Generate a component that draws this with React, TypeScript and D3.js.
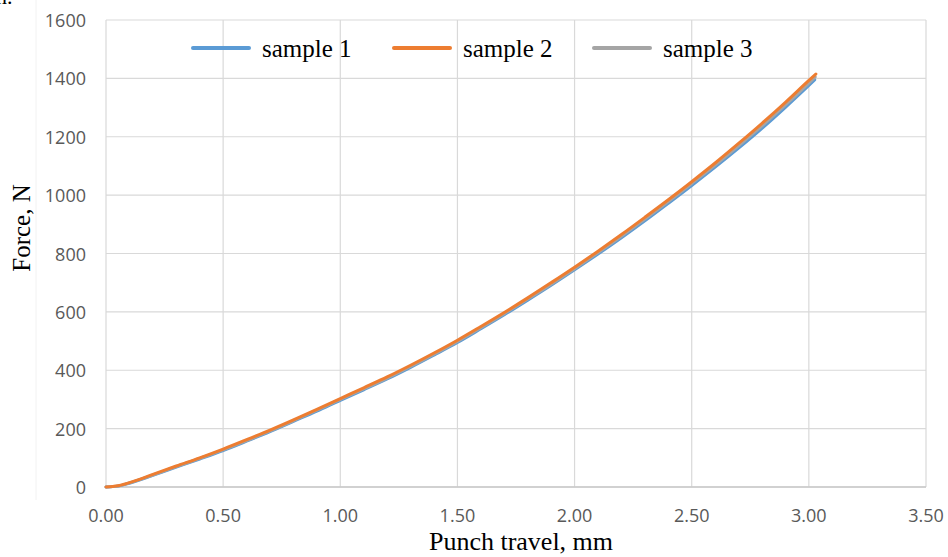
import React from "react";
import * as d3 from "d3";

const xTicks = [0, 0.5, 1.0, 1.5, 2.0, 2.5, 3.0, 3.5];
const yTicks = [0, 200, 400, 600, 800, 1000, 1200, 1400, 1600];

const travel = [0, 0.05, 0.1, 0.2, 0.3, 0.4, 0.5, 0.6, 0.7, 0.8, 0.9, 1.0, 1.1, 1.2, 1.3, 1.4, 1.5, 1.6, 1.7, 1.8, 1.9, 2.0, 2.1, 2.2, 2.3, 2.4, 2.5, 2.6, 2.7, 2.8, 2.9, 3.0];
const sample1 = [0, 3, 13, 40, 68, 96, 125, 157, 190, 225, 260, 297, 333, 370, 410, 452, 495, 542, 590, 640, 691, 744, 798, 854, 912, 972, 1033, 1096, 1161, 1229, 1301, 1376];
const sample2 = [0, 4, 15, 43, 72, 100, 130, 162, 195, 230, 266, 303, 340, 377, 417, 459, 503, 550, 598, 648, 700, 753, 808, 865, 924, 984, 1046, 1110, 1177, 1246, 1318, 1393];
const sample3 = [0, 3, 14, 41, 70, 98, 127, 159, 192, 227, 263, 300, 336, 373, 413, 455, 499, 546, 594, 644, 695, 748, 803, 859, 918, 978, 1040, 1103, 1169, 1237, 1309, 1384];
const endTravel = [3.025, 3.03, 3.027];
const endForce = [1395, 1415, 1405];

const seriesNames = ["sample 1", "sample 2", "sample 3"];
const seriesColors = ["#5B9BD5", "#ED7D31", "#A5A5A5"];

export default function App() {
  const x = d3.scaleLinear().domain([0, 3.5]).range([106, 926]);
  const y = d3.scaleLinear().domain([0, 1600]).range([487, 20]);
  const all = [sample1, sample2, sample3];
  const line = d3
    .line<[number, number]>()
    .x((d) => x(d[0]))
    .y((d) => y(d[1]))
    .curve(d3.curveMonotoneX);
  const paths = all.map((s, i) => {
    const pts: [number, number][] = travel.map((t, j) => [t, s[j]]);
    pts.push([endTravel[i], endForce[i]]);
    return line(pts) as string;
  });
  const drawOrder = [0, 2, 1];
  const legendX = [193, 394, 594];
  const tickFont = "'Open Sans', 'Liberation Sans', sans-serif";
  const serif = "'Liberation Serif', 'Times New Roman', serif";
  return (
    <svg
      width={948}
      height={557}
      style={{ position: "absolute", left: 0, top: 0, background: "#fff" }}
    >
      <rect x={0} y={0} width={948} height={557} fill="#fff" />
      <line x1={36} y1={0} x2={36} y2={500} stroke="#f2f2f2" strokeWidth={1} />
      <text x={-4} y={4} fontFamily={serif} fontSize={22} fill="#000">n.</text>
      {yTicks.map((t) => (
        <line key={"gy" + t} x1={106} x2={926} y1={y(t)} y2={y(t)} stroke="#d9d9d9" strokeWidth={1.2} />
      ))}
      {xTicks.map((t) => (
        <line key={"gx" + t} x1={x(t)} x2={x(t)} y1={20} y2={487} stroke="#d9d9d9" strokeWidth={1.2} />
      ))}
      <line x1={106} x2={926} y1={487} y2={487} stroke="#c8c8c8" strokeWidth={1.6} />
      {yTicks.map((t) => (
        <text key={"ly" + t} x={86} y={y(t)} dominantBaseline="central" textAnchor="end" fontFamily={tickFont} fontSize={18} fill="#595959">
          {t}
        </text>
      ))}
      {xTicks.map((t) => (
        <text key={"lx" + t} x={x(t)} y={522} textAnchor="middle" fontFamily={tickFont} fontSize={18} fill="#595959">
          {t.toFixed(2)}
        </text>
      ))}
      {drawOrder.map((i) => (
        <path key={"p" + i} d={paths[i]} fill="none" stroke={seriesColors[i]} strokeWidth={3} strokeLinecap="round" />
      ))}
      {seriesNames.map((n, i) => (
        <g key={"lg" + i}>
          <line x1={legendX[i]} x2={legendX[i] + 56} y1={48} y2={48} stroke={seriesColors[i]} strokeWidth={4} strokeLinecap="round" />
          <text x={legendX[i] + 69} y={48} dominantBaseline="central" fontFamily={serif} fontSize={25} fill="#000">
            {n}
          </text>
        </g>
      ))}
      <text x={521} y={550} textAnchor="middle" fontFamily={serif} fontSize={26} fill="#000">
        Punch travel, mm
      </text>
      <text transform="translate(30,228) rotate(-90)" textAnchor="middle" fontFamily={serif} fontSize={25} fill="#000">
        Force, N
      </text>
    </svg>
  );
}
